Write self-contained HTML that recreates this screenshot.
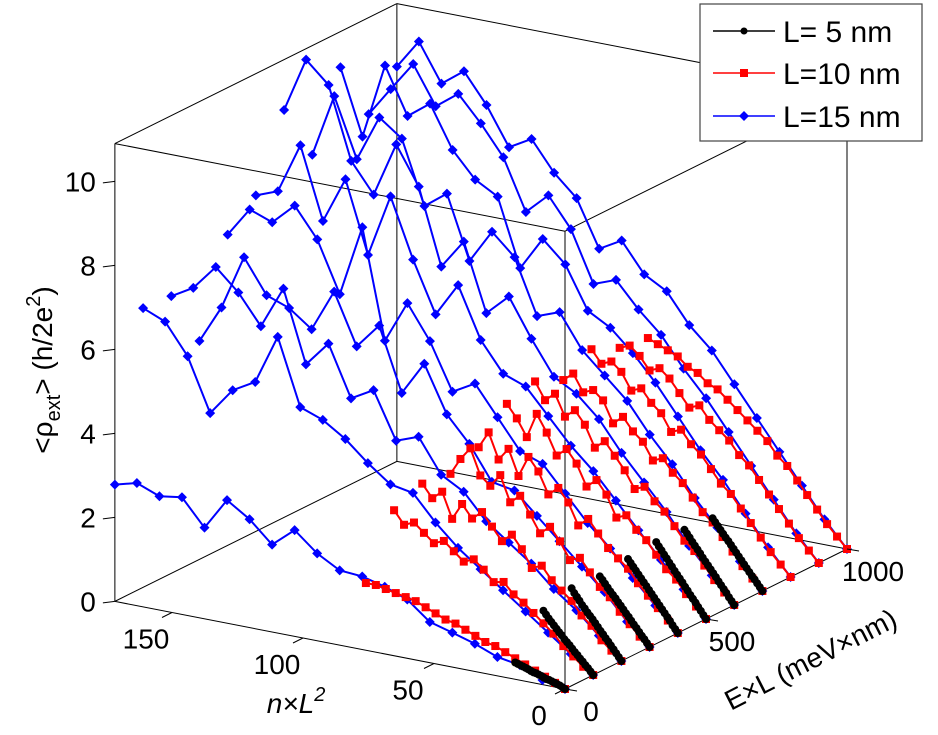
<!DOCTYPE html>
<html><head><meta charset="utf-8"><style>
body{margin:0;background:#fff;}
svg{display:block;font-family:"Liberation Sans",Arial,sans-serif;}
</style></head><body>
<svg id="chart" width="938" height="735" viewBox="0 0 938 735">
<g id="box"></g>
<g id="series"></g>
<g id="axes"></g>
<g>
<rect x="700" y="4" width="222" height="137" fill="#fff" stroke="#444" stroke-width="1.2"/>
<g><line x1="713" y1="31" x2="775" y2="31" stroke="#000" stroke-width="1.5"/><circle cx="744" cy="31" r="3.5" fill="#000"/><text x="783" y="42" font-size="30">L= 5 nm</text></g>
<g><line x1="713" y1="73" x2="775" y2="73" stroke="#f00" stroke-width="1.5"/><rect x="740" y="69" width="8" height="8" fill="#f00"/><text x="783" y="84" font-size="30">L=10 nm</text></g>
<g><line x1="713" y1="116" x2="775" y2="116" stroke="#00f" stroke-width="1.5"/><path d="M744 111 L749 116 L744 121 L739 116Z" fill="#00f"/><text x="783" y="127" font-size="30">L=15 nm</text></g>
</g>
</svg>
<script>
// ---- data ----
const energies = [0,100,200,300,400,500,600,700,800,900,1000];
const blueN = [0,8.6,17.2,25.8,34.4,43,51.6,60.2,68.8,77.4,86,94.6,103.2,111.8,120.4,129,137.6,146.2,154.8,163.4,171.8];
const redN = [0,3.8,7.6,11.4,15.2,19,22.8,26.6,30.4,34.2,38,41.8,45.6,49.4,53.2,57,60.8,64.6,68.4,72.2,76];
const blackN = [0,1,2,3,4,5,6,7,8,9,10,11,12,13,14,15,16,17,18,19];
const blueZ = [
[0,0.11,0.36,0.45,0.66,0.82,0.97,1.40,1.60,1.74,1.78,2.08,2.53,2.08,2.58,2.93,2.17,2.79,2.71,2.92,2.78],
[0,0.4,0.8,1.2,1.6,2.0,2.4,2.9,3.5,3.6,4.0,4.47,4.82,5.02,6.59,5.41,5.11,4.46,5.71,6.43,6.65],
[0,0.5,1.0,1.4,1.9,2.3,2.7,3.3,3.6,4.4,4.2,5.3,5.0,6.2,5.6,7.3,6.3,7.0,7.5,6.9,6.6],
[0,0.5,1.1,1.6,2.1,2.6,3.1,3.2,4.0,4.6,5.7,4.9,6.4,5.8,7.0,6.0,6.4,6.6,7.4,6.1,5.2],
[0,0.55,1.1,1.7,2.2,2.8,3.4,3.6,4.3,5.0,4.7,5.8,6.6,5.6,8.2,6.5,7.7,8.4,7.9,8.1,7.4],
[0,0.6,1.2,1.8,2.4,3.0,3.5,4.1,4.7,4.9,5.6,6.8,6.0,7.2,8.6,7.1,8.8,7.7,9.4,8.2,8.0],
[0,0.6,1.2,1.9,2.5,3.1,3.8,4.3,4.6,5.4,6.3,5.8,7.4,6.7,8.5,9.4,8.1,8.8,10.5,11.0,9.7],
[0,0.6,1.3,1.9,2.6,3.2,3.9,4.4,4.9,5.7,5.5,6.8,7.3,6.5,8.0,7.6,9.1,9.5,8.4,9.8,8.3],
[0,0.6,1.3,2.0,2.6,3.3,4.0,4.6,5.1,5.4,6.4,6.9,6.1,7.7,8.0,8.6,9.6,9.2,10.3,8.5,10.05],
[0,0.6,1.3,2.0,2.7,3.4,4.0,4.7,5.2,5.8,5.6,6.8,7.5,7.0,8.2,8.9,9.5,9.1,10.0,9.3,8.6],
[0,0.6,1.3,2.0,2.7,3.4,4.1,4.6,5.3,5.6,6.3,6.0,7.1,7.6,8.3,8.0,8.9,9.6,9.2,10.1,9.4]
];
const redZ = [
[0,0.1,0.2,0.3,0.4,0.5,0.6,0.7,0.75,0.85,0.95,1.05,1.1,1.2,1.3,1.4,1.45,1.5,1.55,1.6,1.6],
[0,0.15,0.35,0.55,0.8,1.0,1.2,1.4,1.55,1.8,1.75,2.0,2.2,2.1,2.3,2.5,2.4,2.6,2.8,2.7,3.0],
[0,0.2,0.4,0.7,0.9,1.2,1.4,1.6,1.9,1.8,2.2,2.5,2.3,2.6,2.9,2.7,3.0,2.6,3.2,3.0,3.3],
[0,0.2,0.45,0.7,1.0,1.2,1.5,1.8,1.7,2.1,2.4,2.2,2.6,3.0,2.8,3.4,3.1,3.3,3.9,3.6,3.2],
[0,0.25,0.5,0.75,1.0,1.3,1.5,1.7,2.0,2.3,2.1,2.6,2.9,2.7,3.2,3.5,3.0,3.6,3.3,3.9,3.5],
[0,0.25,0.5,0.8,1.0,1.3,1.6,1.8,2.1,2.0,2.5,2.8,2.6,3.1,3.4,3.2,3.7,4.1,3.5,3.9,4.2],
[0,0.25,0.5,0.8,1.1,1.3,1.6,1.9,2.1,2.4,2.3,2.7,3.0,3.3,3.1,3.6,3.9,3.7,4.2,4.0,4.4],
[0,0.25,0.5,0.8,1.1,1.4,1.6,1.9,2.2,2.4,2.7,2.6,3.0,3.2,3.5,3.3,3.8,4.0,3.9,4.3,4.1],
[0,0.25,0.5,0.8,1.1,1.4,1.7,1.9,2.2,2.5,2.7,3.0,2.9,3.3,3.5,3.8,3.7,4.1,4.3,4.2,4.5],
[0,0.25,0.5,0.8,1.1,1.4,1.7,2.0,2.2,2.5,2.7,2.9,3.2,3.1,3.4,3.7,3.9,3.8,4.1,4.3,4.2],
[0,0.25,0.5,0.8,1.1,1.4,1.7,1.9,2.2,2.4,2.6,2.8,3.0,3.2,3.3,3.5,3.6,3.8,3.9,4.0,4.1]
];
const blackZ = [
[0,0.03,0.06,0.08,0.1,0.12,0.14,0.15,0.17,0.2,0.22,0.24,0.25,0.27,0.3,0.32,0.34,0.36,0.38,0.4],
[0,0.07,0.14,0.2,0.27,0.33,0.4,0.46,0.53,0.6,0.66,0.72,0.8,0.86,0.93,1.0,1.07,1.14,1.22,1.3],
[0,0.08,0.16,0.24,0.32,0.4,0.47,0.55,0.62,0.7,0.78,0.86,0.93,1.0,1.08,1.15,1.24,1.32,1.4,1.5],
[0,0.08,0.16,0.23,0.31,0.39,0.46,0.54,0.62,0.69,0.77,0.85,0.92,1.0,1.07,1.14,1.22,1.3,1.38,1.45],
[0,0.08,0.16,0.25,0.33,0.41,0.49,0.57,0.65,0.73,0.81,0.89,0.97,1.05,1.13,1.21,1.29,1.37,1.45,1.53],
[0,0.08,0.17,0.25,0.34,0.42,0.5,0.59,0.67,0.76,0.84,0.92,1.0,1.09,1.17,1.26,1.34,1.43,1.51,1.6],
[0,0.08,0.16,0.25,0.33,0.41,0.49,0.58,0.66,0.74,0.82,0.9,0.98,1.07,1.15,1.23,1.31,1.4,1.48,1.56],
[0,0.08,0.16,0.24,0.31,0.39,0.47,0.55,0.63,0.71,0.79,0.87,0.95,1.03,1.1,1.18,1.26,1.34,1.42,1.5]
];
const zTicks = [0,2,4,6,8,10];
const nTicks = [0,50,100,150];
const eTicks = [0,500,1000];
// ---- projection ----
const N_MAX=171.8, E_MAX=1000, Z_MAX=10.9;
function px(n,e,z){return 565-2.62*n+0.282*e;}
function py(n,e,z){return 689-0.51*n-0.14*e-42*z;}
const NS="http://www.w3.org/2000/svg";
function mk(tag,attrs,parent){const el=document.createElementNS(NS,tag);for(const k in attrs)el.setAttribute(k,attrs[k]);parent.appendChild(el);return el;}
const box=document.getElementById('box'), ser=document.getElementById('series'), ax=document.getElementById('axes');
function edge(a,b,name){const l=mk('line',{x1:px(...a),y1:py(...a),x2:px(...b),y2:py(...b),stroke:'#000','stroke-width':1},box);

}
edge([N_MAX,0,0],[0,0,0],'n-axis-line');
edge([0,0,0],[0,E_MAX,0],'e-axis-line');
edge([N_MAX,0,0],[N_MAX,E_MAX,0],'floor-back-left');
edge([N_MAX,E_MAX,0],[0,E_MAX,0],'floor-back');
edge([N_MAX,0,0],[N_MAX,0,Z_MAX],'z-axis-line');
edge([0,0,0],[0,0,Z_MAX],'box-edge-front');
edge([N_MAX,E_MAX,0],[N_MAX,E_MAX,Z_MAX],'box-edge-back');
edge([0,E_MAX,0],[0,E_MAX,Z_MAX],'box-edge-right');
edge([N_MAX,0,Z_MAX],[0,0,Z_MAX],'box-top-front');
edge([N_MAX,0,Z_MAX],[N_MAX,E_MAX,Z_MAX],'box-top-left');
edge([0,0,Z_MAX],[0,E_MAX,Z_MAX],'box-top-right');
edge([N_MAX,E_MAX,Z_MAX],[0,E_MAX,Z_MAX],'box-top-back');
// ticks
zTicks.forEach(t=>{const x=px(N_MAX,0,t),y=py(N_MAX,0,t);
mk('line',{x1:x,y1:y,x2:x-12,y2:y+1.5,stroke:'#000','stroke-width':1},ax);
const tx=mk('text',{x:x-19,y:y+10,'font-size':28,'text-anchor':'end'},ax);tx.textContent=t;

});
nTicks.forEach(t=>{const x=px(t,0,0),y=py(t,0,0);
mk('line',{x1:x,y1:y,x2:x-10,y2:y+5,stroke:'#000','stroke-width':1},ax);
const tx=mk('text',{x:x-26,y:y+36,'font-size':28,'text-anchor':'middle'},ax);tx.textContent=t;

});
eTicks.forEach(t=>{const x=px(0,t,0),y=py(0,t,0);
mk('line',{x1:x,y1:y,x2:x+12,y2:y+2,stroke:'#000','stroke-width':1},ax);
const tx=mk('text',{x:x+26,y:y+32,'font-size':28,'text-anchor':'middle'},ax);tx.textContent=t;

});
// axis titles
let t1=mk('text',{x:296,y:713,'font-size':28,'font-style':'italic','text-anchor':'middle'},ax);
t1.innerHTML='n×L<tspan dy="-12" font-size="20">2</tspan>';


let t2=mk('text',{x:0,y:0,'font-size':28,'text-anchor':'middle',transform:'translate(815,668) rotate(-27)'},ax);
t2.textContent='E×L (meV×nm)';


let t3=mk('text',{x:0,y:0,'font-size':28,'text-anchor':'middle',transform:'translate(52,370) rotate(-90)'},ax);
t3.innerHTML='&lt;ρ<tspan dy="8" font-size="20">ext</tspan><tspan dy="-8">&gt; (h/2e</tspan><tspan dy="-12" font-size="20">2</tspan><tspan dy="12">)</tspan>';


// series
function drawSeries(zs,ns,color,marker,name){
 zs.forEach((row,k)=>{const e=energies[k];
  const g=mk('g',{},ser);
  
  
  const pts=row.map((z,i)=>[px(ns[i],e,z),py(ns[i],e,z)]);
  mk('polyline',{points:pts.map(p=>p.join(',')).join(' '),fill:'none',stroke:color,'stroke-width':2},g);
  pts.forEach(p=>{let m;
   if(marker==='d')m=mk('path',{d:`M${p[0]} ${p[1]-5}L${p[0]+5} ${p[1]}L${p[0]} ${p[1]+5}L${p[0]-5} ${p[1]}Z`,fill:color},g);
   else if(marker==='s')m=mk('rect',{x:p[0]-4,y:p[1]-4,width:8,height:8,fill:color},g);
   else m=mk('circle',{cx:p[0],cy:p[1],r:4,fill:color},g);
   
   });
 });
}
drawSeries(blueZ,blueN,'#0000ff','d','l15');
drawSeries(redZ,redN,'#ff0000','s','l10');
drawSeries(blackZ,blackN,'#000000','c','l5');
</script>
</body></html>
